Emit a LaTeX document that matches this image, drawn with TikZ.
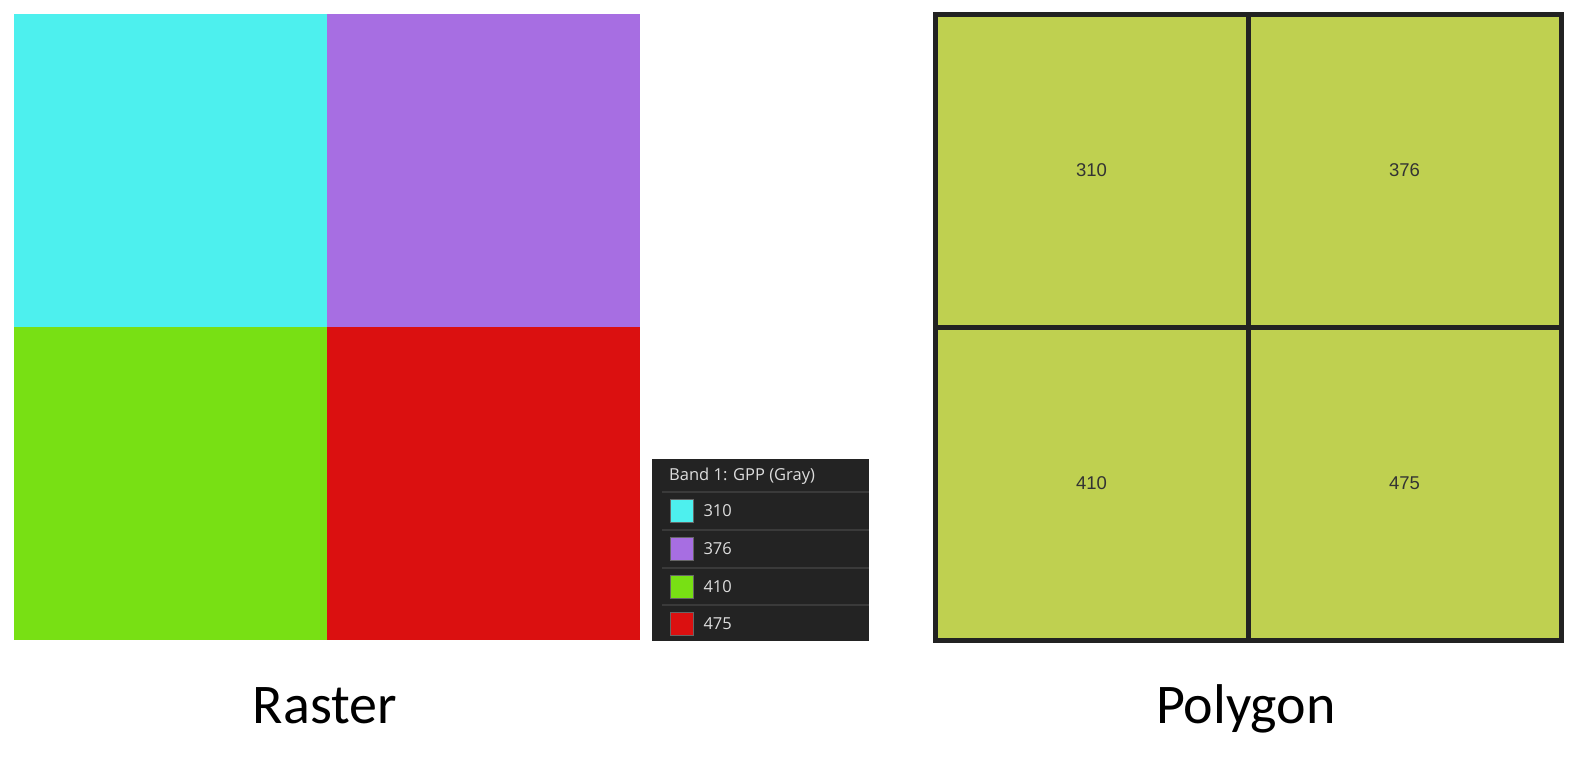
\documentclass[tikz,border=0pt]{standalone}
\usepackage{fontspec}
\setmainfont{Carlito}
\newfontfamily\legendfont{Open Sans}
\newfontfamily\labelfont{Liberation Sans}
\usetikzlibrary{positioning}

\definecolor{rcyan}{HTML}{4DF0EE}
\definecolor{rpurple}{HTML}{A76EE2}
\definecolor{rgreen}{HTML}{78E014}
\definecolor{rred}{HTML}{DB1010}
\definecolor{polyfill}{HTML}{BFD050}
\definecolor{polyline}{HTML}{222222}
\definecolor{legendbg}{HTML}{232323}
\definecolor{legendsep}{HTML}{3A3A3A}
\definecolor{legendtxt}{HTML}{DDDDDD}

\begin{document}
\begin{tikzpicture}[
  x=1pt, y=-1pt,
  cell/.style={anchor=north west, minimum width=313pt, minimum height=313pt, inner sep=0pt, outer sep=0pt},
  pcell/.style={cell, fill=polyfill, draw=polyline, line width=5pt, font=\labelfont\fontsize{18.5}{18.5}\selectfont, text=black!80},
  swatch/.style={draw=black!60, line width=0.6pt, minimum size=23pt, inner sep=0pt},
  legtext/.style={font=\legendfont\fontsize{16.5}{16.5}\selectfont, text=legendtxt, inner sep=0pt},
  caption/.style={font=\fontsize{56}{56}\selectfont, anchor=base}
]
  \useasboundingbox (0,0) rectangle (1575,771);

  % raster
  \node[cell, fill=rcyan]   (r310) at (14,14) {};
  \node[cell, fill=rpurple] (r376) at (327,14) {};
  \node[cell, fill=rgreen]  (r410) at (14,327) {};
  \node[cell, fill=rred]    (r475) at (327,327) {};

  % legend
  \node[fill=legendbg, anchor=north west, minimum width=217pt, minimum height=182pt, inner sep=0pt] (legend) at (652,459) {};
  \node[legtext, anchor=west] (header) at (669,476) {Band 1: GPP (Gray)};
  \foreach \y/\val/\col [count=\i] in {511/310/rcyan, 549/376/rpurple, 587/410/rgreen, 624/475/rred} {
    \draw[legendsep, line width=2pt] (662,\y-19) -- (869,\y-19);
    \node[swatch, fill=\col] (sw\i) at (681.5,\y) {};
    \node[legtext, right=10pt of sw\i] (lab\i) {\val};
  }

  % polygon
  \node[pcell] (p310) at (935,14) {310};
  \node[pcell] (p376) at (1248,14) {376};
  \node[pcell] (p410) at (935,327) {410};
  \node[pcell] (p475) at (1248,327) {475};

  % captions
  \node[caption] (raster) at (325,723) {Raster};
  \node[caption] (polygon) at (1246,723) {Polygon};
\end{tikzpicture}
\end{document}
